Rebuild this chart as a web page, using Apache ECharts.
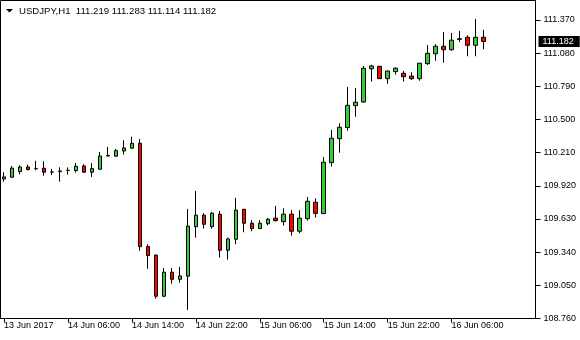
<!DOCTYPE html>
<html><head><meta charset="utf-8">
<script src="https://cdn.jsdelivr.net/npm/echarts@6/dist/echarts.min.js"></script>
<style>html,body{margin:0;padding:0;background:#fff}#c{width:580px;height:340px}</style>
</head><body><div id="c"></div>
<script>
const titleText = 'USDJPY,H1  111.219 111.283 111.114 111.182';
const categories = [
'13 Jun 22:00','13 Jun 23:00',
'14 Jun 00:00','14 Jun 01:00','14 Jun 02:00','14 Jun 03:00','14 Jun 04:00','14 Jun 05:00','14 Jun 06:00','14 Jun 07:00',
'14 Jun 08:00','14 Jun 09:00','14 Jun 10:00','14 Jun 11:00','14 Jun 12:00','14 Jun 13:00','14 Jun 14:00','14 Jun 15:00',
'14 Jun 16:00','14 Jun 17:00','14 Jun 18:00','14 Jun 19:00','14 Jun 20:00','14 Jun 21:00','14 Jun 22:00','14 Jun 23:00',
'15 Jun 00:00','15 Jun 01:00','15 Jun 02:00','15 Jun 03:00','15 Jun 04:00','15 Jun 05:00','15 Jun 06:00','15 Jun 07:00',
'15 Jun 08:00','15 Jun 09:00','15 Jun 10:00','15 Jun 11:00','15 Jun 12:00','15 Jun 13:00','15 Jun 14:00','15 Jun 15:00',
'15 Jun 16:00','15 Jun 17:00','15 Jun 18:00','15 Jun 19:00','15 Jun 20:00','15 Jun 21:00','15 Jun 22:00','15 Jun 23:00',
'16 Jun 00:00','16 Jun 01:00','16 Jun 02:00','16 Jun 03:00','16 Jun 04:00','16 Jun 05:00','16 Jun 06:00','16 Jun 07:00',
'16 Jun 08:00','16 Jun 09:00','16 Jun 10:00'
];
const emptySlots = ['', '', '', '', '', ''];
const opens = [
109.980,109.995,110.044,110.085,110.072,110.074,110.041,110.050,110.054,110.053,
110.094,110.039,110.065,110.186,110.179,110.225,110.249,110.292,109.390,109.313,
108.955,109.165,109.103,109.130,109.563,109.663,109.563,109.672,109.357,109.453,
109.715,109.593,109.546,109.589,109.637,109.607,109.672,109.523,109.633,109.776,
109.677,110.123,110.332,110.429,110.621,110.653,110.944,110.965,110.857,110.918,
110.904,110.879,110.857,110.988,111.075,111.140,111.110,111.201,111.219,111.149,
111.219];
const closes = [
109.998,110.074,110.085,110.063,110.069,110.039,110.040,110.044,110.056,110.091,
110.039,110.070,110.181,110.181,110.228,110.251,110.292,109.388,109.310,108.955,
109.165,109.103,109.132,109.567,109.663,109.584,109.680,109.357,109.456,109.707,
109.593,109.546,109.593,109.628,109.616,109.672,109.523,109.637,109.785,109.679,
110.126,110.336,110.432,110.624,110.651,110.948,110.968,110.857,110.924,110.948,
110.874,110.857,110.992,111.079,111.140,111.110,111.193,111.207,111.149,111.219,
111.182];
const lows = [
109.957,109.993,110.021,110.054,110.056,110.009,110.015,109.957,110.018,110.037,
110.035,109.998,110.063,110.177,110.172,110.194,110.242,109.353,109.196,108.934,
108.946,109.065,109.074,108.835,109.467,109.546,109.546,109.292,109.275,109.409,
109.514,109.523,109.544,109.575,109.607,109.572,109.485,109.505,109.616,109.642,
109.674,110.088,110.210,110.402,110.525,110.647,110.831,110.854,110.813,110.892,
110.831,110.846,110.839,110.977,111.014,110.997,111.102,111.178,111.053,111.053,
111.114];
const highs = [
110.039,110.094,110.098,110.105,110.139,110.135,110.068,110.082,110.081,110.120,
110.109,110.118,110.216,110.260,110.242,110.318,110.350,110.330,109.409,109.322,
109.202,109.202,109.211,109.718,109.875,109.680,109.692,109.700,109.467,109.814,
109.718,109.619,109.619,109.639,109.744,109.724,109.707,109.707,109.823,109.811,
110.172,110.408,110.467,110.784,110.776,110.968,110.979,110.968,110.926,110.957,
110.924,110.913,110.994,111.151,111.158,111.265,111.256,111.274,111.236,111.379,
111.283];
const xTickLabels = ['13 Jun 2017','14 Jun 06:00','14 Jun 14:00','14 Jun 22:00','15 Jun 06:00','15 Jun 14:00','15 Jun 22:00','16 Jun 06:00'];
const xTickEvery = 8;
const yTicks = [108.760,109.050,109.340,109.630,109.920,110.210,110.500,110.790,111.080,111.370];
const yMin = 108.760, yMax = 111.536;
const lastPrice = 111.182;

const FONT = 'Liberation Sans';
const candleData = opens.map((o, i) => [o, closes[i], lows[i], highs[i]]);
const allCats = categories.concat(emptySlots);
const showTick = (idx) => idx % xTickEvery === 0 && idx < categories.length;

const chart = echarts.init(document.getElementById('c'), null, {renderer: 'canvas'});
chart.setOption({
  animation: false,
  backgroundColor: '#fff',
  grid: {left: -0.5, top: 1, width: 536, bottom: 21.5, containLabel: false},
  xAxis: {
    type: 'category', data: allCats, boundaryGap: true,
    axisLine: {show: true, lineStyle: {color: '#000', width: 1}},
    axisTick: {show: true, alignWithLabel: true, interval: showTick, length: 4, lineStyle: {color: '#000'}},
    axisLabel: {show: true, interval: showTick, align: 'left', margin: 3, color: '#000',
      fontFamily: FONT, fontSize: 9,
      formatter: (v, idx) => xTickLabels[Math.round(idx / xTickEvery)]},
    splitLine: {show: false}
  },
  yAxis: {
    type: 'value', position: 'right', min: yMin, max: yMax, scale: true,
    axisLine: {show: true, lineStyle: {color: '#000', width: 1}},
    axisTick: {show: true, inside: false, length: 5, customValues: yTicks, lineStyle: {color: '#000'}},
    axisLabel: {show: true, margin: 8, color: '#000', fontFamily: FONT, fontSize: 9,
      customValues: yTicks, formatter: v => v.toFixed(3)},
    splitLine: {show: false}
  },
  series: [{
    type: 'candlestick',
    data: candleData,
    barWidth: 4,
    itemStyle: {color: '#32CD32', color0: '#FF0000', borderColor: '#000', borderColor0: '#000', borderColorDoji: '#000', borderWidth: 1},
    emphasis: {disabled: true},
    markLine: {
      silent: true, symbol: 'none', animation: false, z: 10, precision: 3,
      lineStyle: {color: 'rgba(0,0,0,0)', width: 1, type: 'solid'},
      data: [{yAxis: lastPrice}],
      label: {show: true, position: 'end', distance: 3, formatter: p => Number(p.value).toFixed(3),
        color: '#fff', backgroundColor: '#000', padding: [1, 6, 1, 4], fontFamily: FONT, fontSize: 9}
    }
  }],
  graphic: [
    {type: 'rect', silent: true, z: 100, shape: {x: 0.5, y: 0.5, width: 535, height: 318},
      style: {fill: 'none', stroke: '#000', lineWidth: 1}},
    {type: 'polygon', silent: true, z: 101, shape: {points: [[6, 9], [13, 9], [9.5, 12.5]]}, style: {fill: '#000'}},
    {type: 'text', silent: true, z: 101, left: 19, top: 6,
      style: {text: titleText, fill: '#000', font: '9.6px "Liberation Sans"'}}
  ]
});
</script>
</body></html>
